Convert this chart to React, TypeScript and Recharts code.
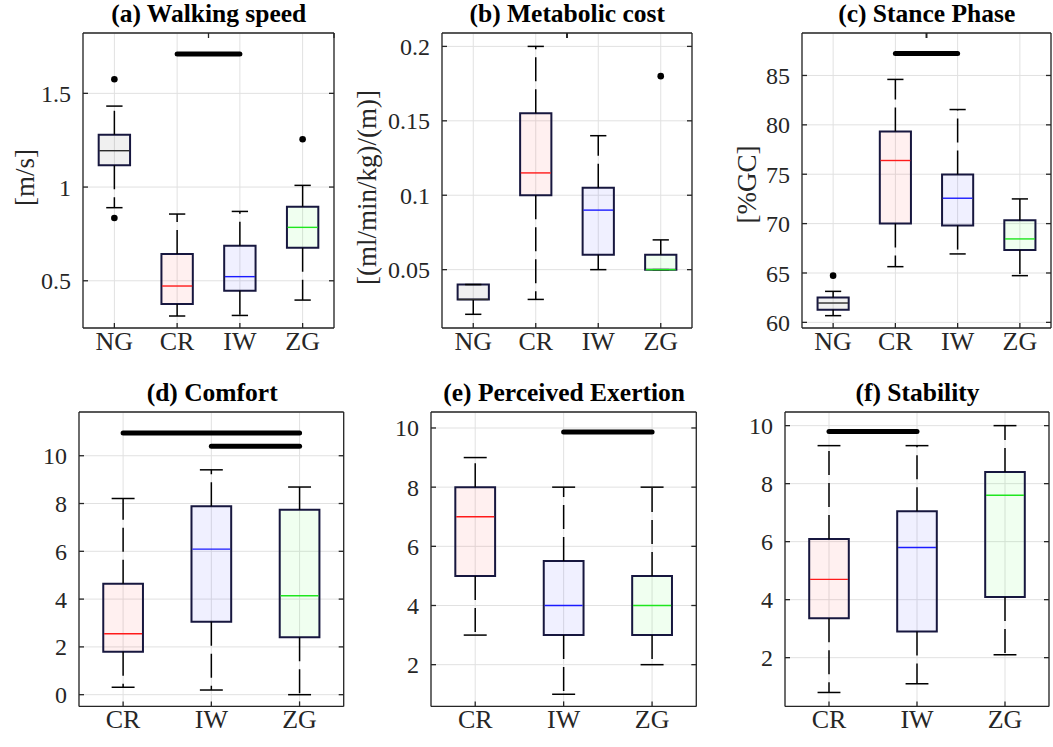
import React from 'react';
import {
  ComposedChart,
  XAxis,
  YAxis,
  CartesianGrid,
  ReferenceArea,
  ReferenceLine,
  Scatter,
} from 'recharts';

const SERIF = '"Liberation Serif", "Times New Roman", Times, serif';

// ---------- categories ----------
const groups4 = ['NG', 'CR', 'IW', 'ZG'];
const groups3 = ['CR', 'IW', 'ZG'];

// ---------- (a) Walking speed [m/s] ----------
const speedLow = [0.89, 0.312, 0.315, 0.397];
const speedQ1 = [1.116, 0.376, 0.447, 0.676];
const speedMedian = [1.194, 0.472, 0.522, 0.785];
const speedQ3 = [1.279, 0.643, 0.687, 0.895];
const speedHigh = [1.432, 0.856, 0.87, 1.009];
const speedOutlierGroup = ['NG', 'NG', 'ZG'];
const speedOutlierValue = [1.575, 0.835, 1.255];
const speedSig = [{ from: 'CR', to: 'IW', y: 1.71 }];
const speedTicks = [0.5, 1, 1.5];

// ---------- (b) Metabolic cost ----------
const metLow = [0.02, 0.03, 0.05, 0.05];
const metQ1 = [0.03, 0.1, 0.06, 0.05];
const metMedian = [0.03, 0.115, 0.09, 0.05];
const metQ3 = [0.04, 0.155, 0.105, 0.06];
const metHigh = [0.04, 0.2, 0.14, 0.07];
const metOutlierGroup = ['ZG'];
const metOutlierValue = [0.18];
const metSig: { from: string; to: string; y: number }[] = [];
const metTicks = [0.05, 0.1, 0.15, 0.2];

// ---------- (c) Stance phase [%GC] ----------
const stanceLow = [60.68, 65.64, 66.93, 64.73];
const stanceQ1 = [61.28, 70.0, 69.8, 67.33];
const stanceMedian = [61.96, 76.39, 72.57, 68.45];
const stanceQ3 = [62.53, 79.32, 74.97, 70.34];
const stanceHigh = [63.14, 84.6, 81.55, 72.5];
const stanceOutlierGroup = ['NG'];
const stanceOutlierValue = [64.73];
const stanceSig = [{ from: 'CR', to: 'IW', y: 87.23 }];
const stanceTicks = [60, 65, 70, 75, 80, 85];

// ---------- (d) Comfort ----------
const comfortLow = [0.31, 0.195, 0];
const comfortQ1 = [1.8, 3.05, 2.4];
const comfortMedian = [2.55, 6.09, 4.14];
const comfortQ3 = [4.64, 7.89, 7.74];
const comfortHigh = [8.21, 9.41, 8.69];
const comfortSig = [
  { from: 'CR', to: 'ZG', y: 10.95 },
  { from: 'IW', to: 'ZG', y: 10.4 },
];
const comfortTicks = [0, 2, 4, 6, 8, 10];

// ---------- (e) Perceived exertion ----------
const exertLow = [3, 1, 2];
const exertQ1 = [5, 3, 3];
const exertMedian = [7, 4, 4];
const exertQ3 = [8, 5.5, 5];
const exertHigh = [9, 8, 8];
const exertSig = [{ from: 'IW', to: 'ZG', y: 9.86 }];
const exertTicks = [2, 4, 6, 8, 10];

// ---------- (f) Stability ----------
const stabLow = [0.8, 1.1, 2.1];
const stabQ1 = [3.36, 2.9, 4.09];
const stabMedian = [4.7, 5.8, 7.6];
const stabQ3 = [6.09, 7.05, 8.4];
const stabHigh = [9.31, 9.31, 10];
const stabSig = [{ from: 'CR', to: 'IW', y: 9.8 }];
const stabTicks = [2, 4, 6, 8, 10];

// ---------- styles ----------
const FILL: Record<string, string> = { NG: '#000000', CR: '#ff0000', IW: '#0000ff', ZG: '#00ff00' };
const MEDIAN_COLOR: Record<string, string> = { NG: '#2b2b2b', CR: '#ff1a1a', IW: '#1a1aff', ZG: '#1ee61e' };
const BOX_STROKE = '#17173f';
const AXIS = '#262626';

type Sig = { from: string; to: string; y: number };

type PanelProps = {
  title: string;
  yLabel?: string;
  yLabelDist?: number;
  yLabelShift?: number;
  cats: string[];
  low: number[];
  q1: number[];
  med: number[];
  q3: number[];
  high: number[];
  outGroup: string[];
  outValue: number[];
  sigs: Sig[];
  domain: [number, number];
  ticks: number[];
  rect: [number, number, number, number];
  boxHalf: number;
};

function Panel(p: PanelProps) {
  const [L, T, R, B] = p.rect;
  const ML = 100;
  const MT = 45;
  const MR = 12;
  const MB = 50;
  const pw = R - L;
  const ph = B - T;
  const W = pw + ML + MR;
  const H = ph + MT + MB;
  const n = p.cats.length;
  const xs = p.cats.map((_, i) => i + 1);
  const pos = (g: string) => p.cats.indexOf(g) + 1;
  const outData = p.outGroup.map((g, i) => ({ x: pos(g), y: p.outValue[i] }));
  const capHalf = 0.13;

  const yLabelFn = (props: any) => {
    if (!p.yLabel) return null;
    const vb = props.viewBox || {};
    const x = vb.x + vb.width - (p.yLabelDist || 60);
    const y = vb.y + vb.height / 2 + (p.yLabelShift || 0);
    return (
      <text
        x={x}
        y={y}
        transform={`rotate(-90, ${x}, ${y})`}
        textAnchor="middle"
        dominantBaseline="central"
        fontFamily={SERIF}
        fontSize={27}
        fill={AXIS}
      >
        {p.yLabel}
      </text>
    );
  };

  const elements: React.ReactNode[] = [];
  p.cats.forEach((c, i) => {
    const x = i + 1;
    if (p.high[i] > p.q3[i]) {
      elements.push(
        <ReferenceLine
          key={`wh${i}`}
          segment={[{ x, y: p.q3[i] }, { x, y: p.high[i] }]}
          stroke="#000"
          strokeWidth={1.5}
          strokeDasharray="24 8"
        />
      );
    }
    if (p.low[i] < p.q1[i]) {
      elements.push(
        <ReferenceLine
          key={`wl${i}`}
          segment={[{ x, y: p.q1[i] }, { x, y: p.low[i] }]}
          stroke="#000"
          strokeWidth={1.5}
          strokeDasharray="24 8"
        />
      );
    }
    elements.push(
      <ReferenceLine
        key={`ch${i}`}
        segment={[{ x: x - capHalf, y: p.high[i] }, { x: x + capHalf, y: p.high[i] }]}
        stroke="#000"
        strokeWidth={1.5}
      />
    );
    elements.push(
      <ReferenceLine
        key={`cl${i}`}
        segment={[{ x: x - capHalf, y: p.low[i] }, { x: x + capHalf, y: p.low[i] }]}
        stroke="#000"
        strokeWidth={1.5}
      />
    );
    elements.push(
      <ReferenceArea
        key={`b${i}`}
        x1={x - p.boxHalf}
        x2={x + p.boxHalf}
        y1={p.q1[i]}
        y2={p.q3[i]}
        fill={FILL[c]}
        fillOpacity={0.06}
        stroke={BOX_STROKE}
        strokeWidth={2}
      />
    );
    elements.push(
      <ReferenceLine
        key={`m${i}`}
        segment={[{ x: x - p.boxHalf + 0.01, y: p.med[i] }, { x: x + p.boxHalf - 0.01, y: p.med[i] }]}
        stroke={MEDIAN_COLOR[c]}
        strokeWidth={1.4}
      />
    );
  });
  p.sigs.forEach((s, k) => {
    elements.push(
      <ReferenceLine
        key={`s${k}`}
        segment={[{ x: pos(s.from), y: s.y }, { x: pos(s.to), y: s.y }]}
        stroke="#000"
        strokeWidth={5}
        strokeLinecap="round"
      />
    );
  });

  const tickStyleY = { fill: AXIS, fontSize: 24, fontFamily: SERIF };
  const tickStyleX = { fill: AXIS, fontSize: 26, fontFamily: SERIF };

  return (
    <div style={{ position: 'absolute', left: L - ML, top: T - MT, width: W, height: H }}>
      <div
        style={{
          position: 'absolute',
          left: ML,
          width: pw,
          top: MT - 33.3,
          textAlign: 'center',
          fontFamily: SERIF,
          fontWeight: 'bold',
          fontSize: 25.5,
          lineHeight: '28.8px',
          color: '#000',
          whiteSpace: 'nowrap',
        }}
      >
        {p.title}
      </div>
      <ComposedChart
        width={W}
        height={H}
        margin={{ top: MT - 1, right: MR, bottom: 0, left: 0 }}
        data={outData}
      >
        <CartesianGrid stroke="#e1e1e1" strokeWidth={1} />
        <XAxis
          type="number"
          dataKey="x"
          domain={[0.5, n + 0.5]}
          allowDataOverflow
          ticks={xs}
          interval={0}
          tickFormatter={(v: number) => p.cats[v - 1] || ''}
          height={MB}
          tickSize={-5}
          tickMargin={8.5}
          stroke={AXIS}
          strokeWidth={1.3}
          tick={tickStyleX}
        />
        <XAxis
          xAxisId="top"
          orientation="top"
          type="number"
          domain={[0.5, n + 0.5]}
          allowDataOverflow
          ticks={xs}
          interval={0}
          height={1}
          tickFormatter={() => ''}
          tickSize={-5}
          stroke={AXIS}
          strokeWidth={1.3}
        />
        <YAxis
          type="number"
          dataKey="y"
          domain={p.domain}
          allowDataOverflow
          ticks={p.ticks}
          interval={0}
          width={ML}
          tickSize={-5}
          tickMargin={17}
          stroke={AXIS}
          strokeWidth={1.3}
          tick={tickStyleY}
          label={yLabelFn}
        />
        <YAxis
          yAxisId="right"
          orientation="right"
          type="number"
          domain={p.domain}
          allowDataOverflow
          ticks={p.ticks}
          interval={0}
          width={1}
          tickFormatter={() => ''}
          tickSize={-5}
          stroke={AXIS}
          strokeWidth={1.3}
        />
        {elements}
        <Scatter
          data={outData}
          dataKey="y"
          isAnimationActive={false}
          shape={(s: any) => <circle cx={s.cx} cy={s.cy} r={3.3} fill="#000" />}
        />
      </ComposedChart>
    </div>
  );
}

export default function App() {
  return (
    <div
      style={{
        position: 'absolute',
        left: 0,
        top: 0,
        width: 1053,
        height: 747,
        background: '#ffffff',
        overflow: 'hidden',
        fontFamily: SERIF,
      }}
    >
      <Panel
        title="(a) Walking speed"
        yLabel="[m/s]"
        yLabelDist={58}
        yLabelShift={-3}
        cats={groups4}
        low={speedLow}
        q1={speedQ1}
        med={speedMedian}
        q3={speedQ3}
        high={speedHigh}
        outGroup={speedOutlierGroup}
        outValue={speedOutlierValue}
        sigs={speedSig}
        domain={[0.248, 1.822]}
        ticks={speedTicks}
        rect={[82.7, 33.3, 334.7, 328.3]}
        boxHalf={0.25}
      />
      <Panel
        title="(b) Metabolic cost"
        yLabel="[(ml/min/kg)/(m)]"
        yLabelDist={75}
        yLabelShift={7}
        cats={groups4}
        low={metLow}
        q1={metQ1}
        med={metMedian}
        q3={metQ3}
        high={metHigh}
        outGroup={metOutlierGroup}
        outValue={metOutlierValue}
        sigs={metSig}
        domain={[0.0108, 0.209]}
        ticks={metTicks}
        rect={[441.7, 33.3, 692.7, 328.3]}
        boxHalf={0.25}
      />
      <Panel
        title="(c) Stance Phase"
        yLabel="[%GC]"
        yLabelDist={55}
        yLabelShift={4}
        cats={groups4}
        low={stanceLow}
        q1={stanceQ1}
        med={stanceMedian}
        q3={stanceQ3}
        high={stanceHigh}
        outGroup={stanceOutlierGroup}
        outValue={stanceOutlierValue}
        sigs={stanceSig}
        domain={[59.43, 89.3]}
        ticks={stanceTicks}
        rect={[801.7, 33.3, 1051.7, 328.3]}
        boxHalf={0.25}
      />
      <Panel
        title="(d) Comfort"
        cats={groups3}
        low={comfortLow}
        q1={comfortQ1}
        med={comfortMedian}
        q3={comfortQ3}
        high={comfortHigh}
        outGroup={[]}
        outValue={[]}
        sigs={comfortSig}
        domain={[-0.49, 11.83]}
        ticks={comfortTicks}
        rect={[79.3, 412.3, 345, 706.7]}
        boxHalf={0.225}
      />
      <Panel
        title="(e) Perceived Exertion"
        cats={groups3}
        low={exertLow}
        q1={exertQ1}
        med={exertMedian}
        q3={exertQ3}
        high={exertHigh}
        outGroup={[]}
        outValue={[]}
        sigs={exertSig}
        domain={[0.59, 10.54]}
        ticks={exertTicks}
        rect={[431, 412.3, 697.3, 706.7]}
        boxHalf={0.225}
      />
      <Panel
        title="(f) Stability"
        cats={groups3}
        low={stabLow}
        q1={stabQ1}
        med={stabMedian}
        q3={stabQ3}
        high={stabHigh}
        outGroup={[]}
        outValue={[]}
        sigs={stabSig}
        domain={[0.32, 10.47]}
        ticks={stabTicks}
        rect={[785, 412.3, 1050, 706.7]}
        boxHalf={0.225}
      />
    </div>
  );
}
